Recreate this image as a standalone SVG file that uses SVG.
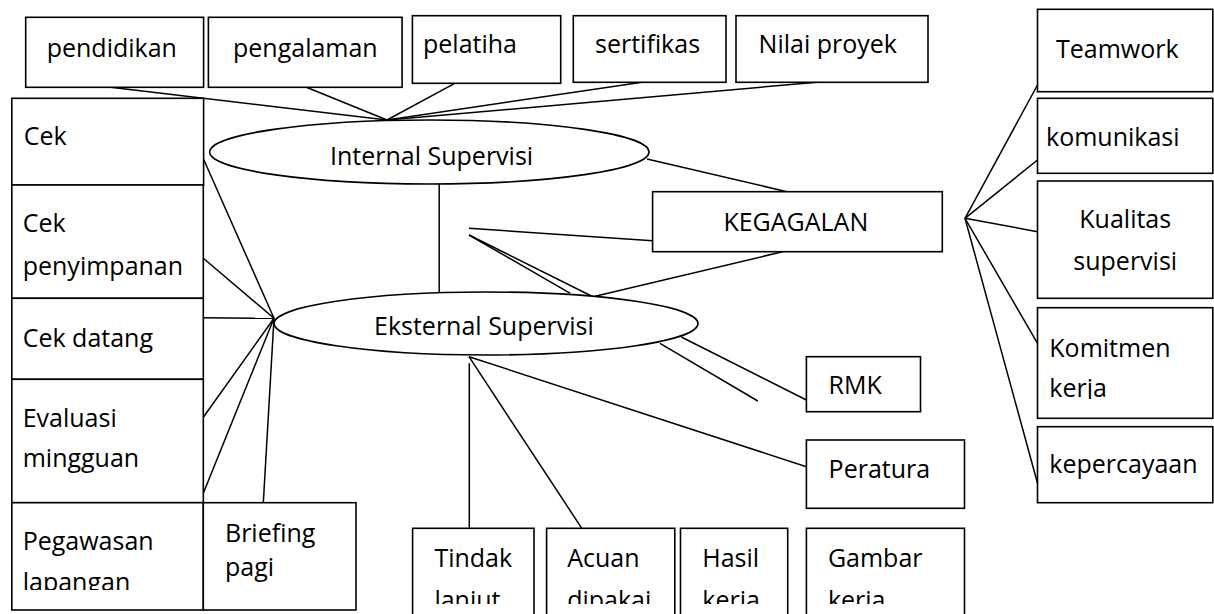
<svg xmlns="http://www.w3.org/2000/svg" width="1214" height="614" viewBox="0 0 1214 614">
<style>
.b{fill:#fff;stroke:#000;stroke-width:1.6}
.c line{stroke:#000;stroke-width:1.5}
text{font-family:"Open Sans","Noto Sans","Liberation Sans",sans-serif;font-size:25px;fill:#000}
</style>
<defs>
<clipPath id="cpPeg"><rect x="12" y="502" width="192" height="88"/></clipPath>
<clipPath id="cpKom"><rect x="1037" y="307" width="176" height="92"/></clipPath>
<clipPath id="cpBot"><rect x="400" y="528" width="570" height="76"/></clipPath>
</defs>
<rect width="1214" height="614" fill="#fff"/>
<g class="c" id="connectors">
<line x1="110.7" y1="87.3" x2="387" y2="120"/>
<line x1="306.4" y1="87.3" x2="387" y2="120"/>
<line x1="454.7" y1="83.3" x2="387" y2="120"/>
<line x1="642" y1="82.3" x2="387" y2="120"/>
<line x1="817" y1="82.3" x2="387" y2="120"/>
<line x1="439.2" y1="184" x2="439.2" y2="292.5"/>
<line x1="647" y1="159" x2="787" y2="191.7"/>
<line x1="469" y1="228.3" x2="652.6" y2="240.7"/>
<line x1="469" y1="235" x2="570.3" y2="293.3"/>
<line x1="469" y1="235" x2="591.4" y2="296"/>
<line x1="782.7" y1="251.7" x2="595.2" y2="296.3"/>
<line x1="203.6" y1="159.3" x2="274" y2="318.3"/>
<line x1="203.3" y1="258.3" x2="274" y2="318.3"/>
<line x1="203.3" y1="317.7" x2="274" y2="318.3"/>
<line x1="203.3" y1="417.3" x2="274" y2="318.3"/>
<line x1="203.3" y1="493.3" x2="274" y2="318.3"/>
<line x1="263.3" y1="502.7" x2="274" y2="318.3"/>
<line x1="660" y1="343.3" x2="757.8" y2="401"/>
<line x1="681.3" y1="337" x2="806.4" y2="400"/>
<line x1="469" y1="356.7" x2="806.4" y2="466.7"/>
<line x1="469.3" y1="363.3" x2="469.3" y2="528.3"/>
<line x1="469" y1="356.7" x2="581.8" y2="528.3"/>
<line x1="965" y1="218.3" x2="1037.5" y2="85"/>
<line x1="965" y1="218.3" x2="1037.5" y2="160"/>
<line x1="965" y1="218.3" x2="1037.5" y2="231.7"/>
<line x1="965" y1="218.3" x2="1037.5" y2="343.3"/>
<line x1="965" y1="218.3" x2="1037.5" y2="483.3"/>
</g>
<g id="pendidikan"><rect class="b" x="25.7" y="17.3" width="177.9" height="70"/><text x="46.7" y="57">pendidikan</text></g>
<g id="pengalaman"><rect class="b" x="208.4" y="17.3" width="193.7" height="70"/><text x="233" y="57">pengalaman</text></g>
<g id="pelatiha"><rect class="b" x="412.4" y="15.7" width="148.3" height="67.6"/><text x="423" y="53.3">pelatiha</text></g>
<g id="sertifikas"><rect class="b" x="573.3" y="15.7" width="152.7" height="66.6"/><text x="595" y="53.3">sertifikas</text></g>
<g id="nilai-proyek"><rect class="b" x="736" y="15.7" width="192" height="66.6"/><text x="758.6" y="53.3">Nilai proyek</text></g>
<g id="internal-supervisi"><ellipse class="b" cx="429.3" cy="152" rx="219.7" ry="32"/><text x="330" y="165">Internal Supervisi</text></g>
<g id="eksternal-supervisi"><ellipse class="b" cx="486" cy="323.5" rx="212" ry="31.5"/><text x="374" y="335">Eksternal Supervisi</text></g>
<g id="kegagalan"><rect class="b" x="652.6" y="191.7" width="289.7" height="60"/><text x="723.4" y="230.7">KEGAGALAN</text></g>
<g id="teamwork"><rect class="b" x="1037.5" y="9.3" width="175.3" height="82.4"/><text x="1056" y="58">Teamwork</text></g>
<g id="komunikasi"><rect class="b" x="1037.5" y="98.3" width="175.3" height="75"/><text x="1046" y="145.5">komunikasi</text></g>
<g id="kualitas-supervisi"><rect class="b" x="1037.5" y="181" width="175.3" height="117.3"/><text x="1079.3" y="228.3">Kualitas</text><text x="1073.3" y="270">supervisi</text></g>
<g id="komitmen-kerja"><rect class="b" x="1037.5" y="307.7" width="175.3" height="110.6"/><text x="1049.3" y="356.7">Komitmen</text><text x="1049.3" y="397" clip-path="url(#cpKom)">kerja</text></g>
<g id="kepercayaan"><rect class="b" x="1037.5" y="426.7" width="175.3" height="76"/><text x="1049.3" y="473.3">kepercayaan</text></g>
<g id="cek"><rect class="b" x="11.8" y="98.3" width="191.8" height="86.7"/><text x="23.7" y="145">Cek</text></g>
<g id="cek-penyimpanan"><rect class="b" x="11.8" y="185" width="191.5" height="113.3"/><text x="22.7" y="231.7">Cek</text><text x="22.7" y="275">penyimpanan</text></g>
<g id="cek-datang"><rect class="b" x="11.8" y="298.3" width="191.5" height="81"/><text x="22.7" y="346.7">Cek datang</text></g>
<g id="evaluasi-mingguan"><rect class="b" x="11.8" y="379.3" width="191.5" height="123.4"/><text x="22.7" y="426.7">Evaluasi</text><text x="22.7" y="467">mingguan</text></g>
<g id="pegawasan-lapangan"><rect class="b" x="11.8" y="502.7" width="191.5" height="107.3"/><text x="22.7" y="550">Pegawasan</text><text x="22.7" y="591" clip-path="url(#cpPeg)">lapangan</text></g>
<g id="briefing-pagi"><rect class="b" x="203.3" y="502.7" width="152.7" height="107.3"/><text x="225" y="541.7">Briefing</text><text x="225" y="576">pagi</text></g>
<g id="rmk"><rect class="b" x="806.4" y="356.7" width="114.1" height="55"/><text x="828.6" y="394.3">RMK</text></g>
<g id="peratura"><rect class="b" x="806.4" y="440" width="158.1" height="68.3"/><text x="828.6" y="477.7">Peratura</text></g>
<g id="tindak-lanjut"><rect class="b" x="412.6" y="528.3" width="121.4" height="95"/><text x="434.4" y="566.7">Tindak</text><text x="434.4" y="609" clip-path="url(#cpBot)">lanjut</text></g>
<g id="acuan-dipakai"><rect class="b" x="546.6" y="528.3" width="128.2" height="95"/><text x="567.2" y="566.7">Acuan</text><text x="567.2" y="609" clip-path="url(#cpBot)">dipakai</text></g>
<g id="hasil-kerja"><rect class="b" x="680.5" y="528.3" width="107.2" height="95"/><text x="702.3" y="566.7">Hasil</text><text x="702.3" y="609" clip-path="url(#cpBot)">kerja</text></g>
<g id="gambar-kerja"><rect class="b" x="806.4" y="528.3" width="158.1" height="95"/><text x="827.9" y="566.7">Gambar</text><text x="827.9" y="609" clip-path="url(#cpBot)">kerja</text></g>
</svg>
